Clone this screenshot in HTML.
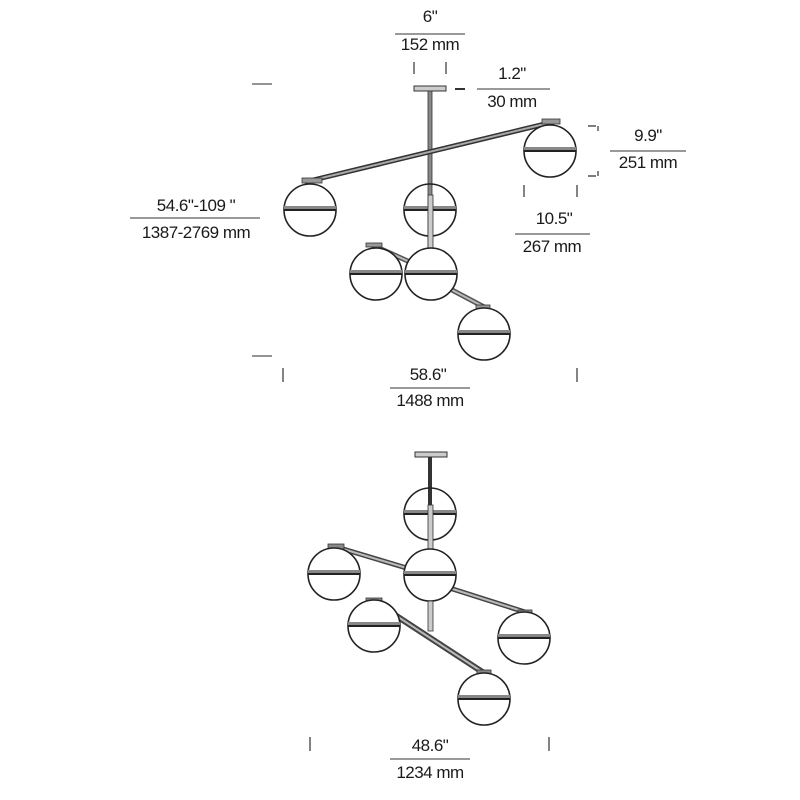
<!DOCTYPE html>
<html><head><style>
html,body{margin:0;padding:0;background:#fff;}
svg{display:block;}
text{font-family:"Liberation Sans",sans-serif;font-size:17px;fill:#1a1a1a;text-anchor:middle;letter-spacing:-0.5px;}
</style></head><body>
<svg width="800" height="800" viewBox="0 0 800 800" xmlns="http://www.w3.org/2000/svg">
<defs>
<g id="globe">
  <circle cx="0" cy="0" r="26" fill="#fff" stroke="#222" stroke-width="1.6"/>
  <rect x="-26" y="-4" width="52" height="4" fill="#888"/>
  <line x1="-26" y1="0" x2="26" y2="0" stroke="#222" stroke-width="2"/>
</g>
<g id="globeT">
  <circle cx="0" cy="0" r="26" fill="none" stroke="#222" stroke-width="1.6"/>
  <rect x="-26" y="-4" width="52" height="4" fill="#888"/>
  <line x1="-26" y1="0" x2="26" y2="0" stroke="#222" stroke-width="2"/>
</g>
</defs>
<!-- TOP FIXTURE -->
<rect x="414" y="86" width="32" height="5" fill="#ccc" stroke="#333" stroke-width="1"/>
<rect x="428" y="91" width="4" height="160" fill="#888" stroke="#333" stroke-width="0.8"/>
<line x1="305" y1="182" x2="553" y2="122" stroke="#333" stroke-width="5"/>
<line x1="305" y1="182" x2="553" y2="122" stroke="#aaa" stroke-width="2"/>
<rect x="302" y="178" width="20" height="5" fill="#999" stroke="#333" stroke-width="0.8"/>
<rect x="542" y="119" width="18" height="5" fill="#999" stroke="#333" stroke-width="0.8"/>
<line x1="372" y1="245" x2="410" y2="262" stroke="#555" stroke-width="5"/>
<line x1="372" y1="245" x2="410" y2="262" stroke="#bbb" stroke-width="2"/>
<rect x="366" y="243" width="16" height="4" fill="#999" stroke="#333" stroke-width="0.8"/>
<line x1="452" y1="290" x2="486" y2="308" stroke="#555" stroke-width="5"/>
<line x1="452" y1="290" x2="486" y2="308" stroke="#bbb" stroke-width="2"/>
<rect x="476" y="305" width="14" height="4" fill="#999" stroke="#333" stroke-width="0.8"/>
<use href="#globe" x="550" y="151"/>
<use href="#globe" x="310" y="210"/>
<use href="#globeT" x="430" y="210"/>
<rect x="428" y="195" width="5" height="55" fill="#ccc" stroke="#333" stroke-width="0.8"/>
<use href="#globe" x="376" y="274"/>
<use href="#globe" x="431" y="274"/>
<use href="#globe" x="484" y="334"/>

<text x="430" y="22">6"</text>
<line x1="395" y1="34" x2="465" y2="34" stroke="#333" stroke-width="1"/>
<text x="430" y="50">152 mm</text>
<path d="M414 62v12M446 62v12" stroke="#333" stroke-width="1.2"/>
<path d="M455 89h10" stroke="#333" stroke-width="2"/>
<text x="512" y="79">1.2"</text>
<line x1="477" y1="89" x2="550" y2="89" stroke="#333" stroke-width="1"/>
<text x="512" y="107">30 mm</text>
<path d="M588 126h8M588 176h8M598 126v5M598 176v-5" stroke="#333" stroke-width="1.2"/>
<text x="648" y="141">9.9"</text>
<line x1="610" y1="151" x2="686" y2="151" stroke="#333" stroke-width="1"/>
<text x="648" y="168">251 mm</text>
<path d="M524 185v12M577 185v12" stroke="#333" stroke-width="1.2"/>
<text x="554" y="224">10.5"</text>
<line x1="515" y1="234" x2="590" y2="234" stroke="#333" stroke-width="1"/>
<text x="552" y="252">267 mm</text>
<path d="M252 84h20M252 356h20" stroke="#555" stroke-width="1.2"/>
<text x="196" y="211">54.6"-109 "</text>
<line x1="130" y1="218" x2="260" y2="218" stroke="#333" stroke-width="1"/>
<text x="196" y="238">1387-2769 mm</text>
<path d="M283 368v14M577 368v14" stroke="#333" stroke-width="1.2"/>
<text x="428" y="380">58.6"</text>
<line x1="390" y1="388" x2="470" y2="388" stroke="#333" stroke-width="1"/>
<text x="430" y="406">1488 mm</text>

<!-- BOTTOM FIXTURE -->
<rect x="415" y="452" width="32" height="5" fill="#ccc" stroke="#333" stroke-width="1"/>
<rect x="428" y="457" width="4" height="50" fill="#333"/>
<line x1="333" y1="546" x2="430" y2="575" stroke="#444" stroke-width="5"/>
<line x1="333" y1="546" x2="430" y2="575" stroke="#bbb" stroke-width="2"/>
<rect x="328" y="544" width="16" height="5" fill="#888" stroke="#333" stroke-width="0.8"/>
<line x1="440" y1="585" x2="525" y2="612" stroke="#444" stroke-width="5"/>
<line x1="440" y1="585" x2="525" y2="612" stroke="#bbb" stroke-width="2"/>
<rect x="518" y="610" width="14" height="5" fill="#888" stroke="#333" stroke-width="0.8"/>
<line x1="372" y1="600" x2="484" y2="673" stroke="#444" stroke-width="6"/>
<line x1="372" y1="600" x2="484" y2="673" stroke="#bbb" stroke-width="2"/>
<rect x="366" y="598" width="16" height="5" fill="#888" stroke="#333" stroke-width="0.8"/>
<rect x="477" y="670" width="14" height="5" fill="#888" stroke="#333" stroke-width="0.8"/>
<use href="#globeT" x="430" y="514"/>
<rect x="428" y="505" width="5" height="44" fill="#ccc" stroke="#333" stroke-width="0.8"/>
<use href="#globe" x="334" y="574"/>
<use href="#globe" x="430" y="575"/>
<rect x="428" y="601" width="5" height="30" fill="#ccc" stroke="#333" stroke-width="0.8"/>
<use href="#globe" x="374" y="626"/>
<use href="#globe" x="524" y="638"/>
<use href="#globe" x="484" y="699"/>
<path d="M310 737v14M549 737v14" stroke="#333" stroke-width="1.2"/>
<text x="430" y="751">48.6"</text>
<line x1="390" y1="759" x2="470" y2="759" stroke="#333" stroke-width="1"/>
<text x="430" y="778">1234 mm</text>
</svg>
</body></html>
